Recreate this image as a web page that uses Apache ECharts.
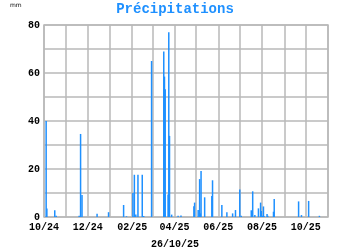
<!DOCTYPE html>
<html><head><meta charset="utf-8">
<script src="https://cdn.jsdelivr.net/npm/echarts@6/dist/echarts.min.js"></script>
<style>html,body{margin:0;padding:0;background:#fff}#c{width:350px;height:250px}</style>
</head><body><div id="c"></div>
<script>
const startDate = '2024-10-01';
const endDate = '2025-11-01';
const rainDates = ['2024-10-04','2024-10-05','2024-10-16','2024-10-18','2024-11-19','2024-11-21','2024-11-23','2024-12-14','2024-12-30',
 '2025-01-20','2025-01-24','2025-02-02','2025-02-04','2025-02-06','2025-02-09','2025-02-15','2025-02-17','2025-02-28',
 '2025-03-17','2025-03-18','2025-03-19','2025-03-23','2025-03-24','2025-03-25','2025-03-28','2025-04-06','2025-04-10',
 '2025-04-28','2025-04-29','2025-05-04','2025-05-06','2025-05-07','2025-05-08','2025-05-13','2025-05-23','2025-05-24',
 '2025-06-06','2025-06-13','2025-06-21','2025-06-25','2025-07-01','2025-07-03','2025-07-17','2025-07-19','2025-07-22',
 '2025-07-27','2025-07-30','2025-07-31','2025-08-02','2025-08-03','2025-08-04','2025-08-08','2025-08-09','2025-08-17',
 '2025-08-18','2025-09-21','2025-09-25','2025-10-05','2025-10-20'];
const rainValues = [40,3.5,2.8,0.5,0.5,34.6,9.2,1.4,2,
 5,0.3,10,17.6,1,17.6,17.6,0.4,65,
 69,58.5,53.2,9.4,77,33.8,1,0.5,0.6,
 4.5,6,2.9,15.8,1.5,19.2,8.2,8.8,15.3,
 5,2,1.5,2.9,11.5,0.5,2.8,10.7,0.8,
 3.6,6,2.5,0.5,4.4,0.3,1.2,0.5,2.2,
 7.5,6.5,0.8,6.7,0.5];
const yTickLabels = ['0','20','40','60','80'];
const titleText = 'Précipitations';
const unitText = 'mm';
const dateText = '26/10/25';

function fmt(d){const m=String(d.getUTCMonth()+1).padStart(2,'0');const dd=String(d.getUTCDate()).padStart(2,'0');return d.getUTCFullYear()+'-'+m+'-'+dd;}
const days=[];
for(let d=new Date(startDate+'T00:00:00Z'); d<=new Date(endDate+'T00:00:00Z'); d.setUTCDate(d.getUTCDate()+1)) days.push(fmt(d));
const lookup={}; rainDates.forEach((d,i)=>lookup[d]=rainValues[i]);
const series=days.map(d=>lookup[d]!==undefined?lookup[d]:0);

const font='"Liberation Mono", "DejaVu Sans Mono", monospace';
const gridColor='#b8b8b8';
const chart=echarts.init(document.getElementById('c'),null,{renderer:'canvas'});
chart.setOption({
  animation:false,
  title:[{text:titleText,left:'center',top:2,padding:0,textStyle:{color:'#1e90ff',fontFamily:font,fontWeight:'bold',fontSize:14}},
    {text:unitText,left:10,top:2,padding:0,textStyle:{color:'#000',fontFamily:'"DejaVu Sans", sans-serif',fontWeight:'normal',fontSize:6}},
    {text:dateText,left:'center',top:239,padding:0,textStyle:{color:'#000',fontFamily:font,fontWeight:'bold',fontSize:10}}],
  grid:{left:44,right:22,top:25,bottom:33,show:true,borderColor:gridColor,borderWidth:1.5},
  xAxis:{type:'category',data:days,boundaryGap:false,
    axisLine:{show:false},axisTick:{show:false},
    axisLabel:{interval:(i,v)=>v.slice(8)==='01'&&parseInt(v.slice(5,7))%2===0,
      formatter:v=>v.slice(5,7)+'/'+v.slice(2,4),color:'#000',fontFamily:font,fontWeight:'bold',fontSize:10,margin:5},
    splitLine:{show:true,interval:(i,v)=>v.slice(8)==='01',lineStyle:{color:gridColor,width:1.5}}},
  yAxis:{type:'value',min:0,max:80,interval:10,
    axisLine:{show:false},axisTick:{show:false},
    axisLabel:{formatter:v=>yTickLabels.indexOf(String(v))>=0?String(v):'',color:'#000',fontFamily:font,fontWeight:'bold',fontSize:10,margin:4},
    splitLine:{show:true,lineStyle:{color:gridColor,width:1.5}}},
  series:[{type:'bar',data:series,barWidth:1.5,itemStyle:{color:'#1e90ff'},barGap:'0%'}]
});
</script></body></html>
